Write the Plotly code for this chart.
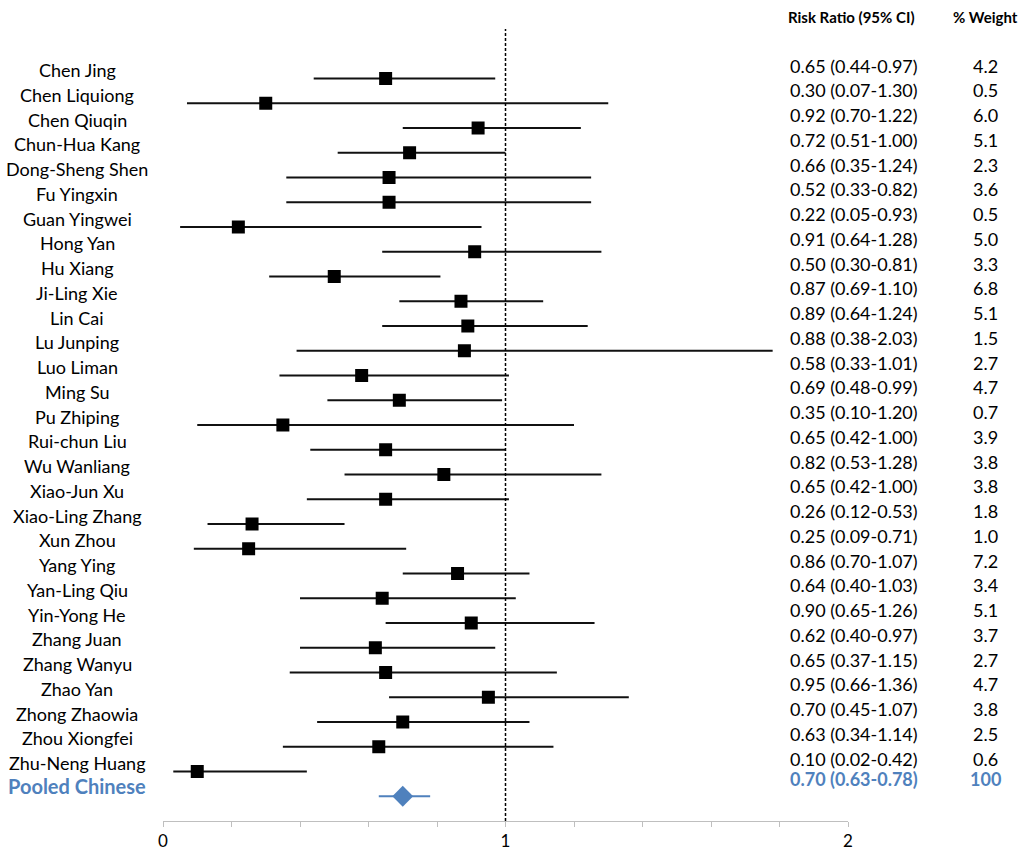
import plotly.graph_objects as go

# study data (points as drawn in the picture, labels as printed)
studies = ["Chen Jing", "Chen Liquiong", "Chen Qiuqin", "Chun-Hua Kang", "Dong-Sheng Shen",
           "Fu Yingxin", "Guan Yingwei", "Hong Yan", "Hu Xiang", "Ji-Ling Xie", "Lin Cai",
           "Lu Junping", "Luo Liman", "Ming Su", "Pu Zhiping", "Rui-chun Liu", "Wu Wanliang",
           "Xiao-Jun Xu", "Xiao-Ling Zhang", "Xun Zhou", "Yang Ying", "Yan-Ling Qiu",
           "Yin-Yong He", "Zhang Juan", "Zhang Wanyu", "Zhao Yan", "Zhong Zhaowia",
           "Zhou Xiongfei", "Zhu-Neng Huang"]
rr = [0.65, 0.30, 0.92, 0.72, 0.66, 0.66, 0.22, 0.91, 0.50, 0.87, 0.89, 0.88, 0.58, 0.69,
      0.35, 0.65, 0.82, 0.65, 0.26, 0.25, 0.86, 0.64, 0.90, 0.62, 0.65, 0.95, 0.70, 0.63, 0.10]
lo = [0.44, 0.07, 0.70, 0.51, 0.36, 0.36, 0.05, 0.64, 0.31, 0.69, 0.64, 0.39, 0.34, 0.48,
      0.10, 0.43, 0.53, 0.42, 0.13, 0.09, 0.70, 0.40, 0.65, 0.40, 0.37, 0.66, 0.45, 0.35, 0.03]
hi = [0.97, 1.30, 1.22, 1.00, 1.25, 1.25, 0.93, 1.28, 0.81, 1.11, 1.24, 1.78, 1.01, 0.99,
      1.20, 1.00, 1.28, 1.01, 0.53, 0.71, 1.07, 1.03, 1.26, 0.97, 1.15, 1.36, 1.07, 1.14, 0.42]
rr_labels = ["0.65 (0.44-0.97)", "0.30 (0.07-1.30)", "0.92 (0.70-1.22)", "0.72 (0.51-1.00)",
             "0.66 (0.35-1.24)", "0.52 (0.33-0.82)", "0.22 (0.05-0.93)", "0.91 (0.64-1.28)",
             "0.50 (0.30-0.81)", "0.87 (0.69-1.10)", "0.89 (0.64-1.24)", "0.88 (0.38-2.03)",
             "0.58 (0.33-1.01)", "0.69 (0.48-0.99)", "0.35 (0.10-1.20)", "0.65 (0.42-1.00)",
             "0.82 (0.53-1.28)", "0.65 (0.42-1.00)", "0.26 (0.12-0.53)", "0.25 (0.09-0.71)",
             "0.86 (0.70-1.07)", "0.64 (0.40-1.03)", "0.90 (0.65-1.26)", "0.62 (0.40-0.97)",
             "0.65 (0.37-1.15)", "0.95 (0.66-1.36)", "0.70 (0.45-1.07)", "0.63 (0.34-1.14)",
             "0.10 (0.02-0.42)"]
weights = ["4.2", "0.5", "6.0", "5.1", "2.3", "3.6", "0.5", "5.0", "3.3", "6.8", "5.1", "1.5",
           "2.7", "4.7", "0.7", "3.9", "3.8", "3.8", "1.8", "1.0", "7.2", "3.4", "5.1", "3.7",
           "2.7", "4.7", "3.8", "2.5", "0.6"]

pooled_name = "Pooled Chinese"
pooled_rr, pooled_lo, pooled_hi = 0.70, 0.63, 0.78
pooled_label = "0.70 (0.63-0.78)"
pooled_weight = "100"

xticks = [0, 0.2, 0.4, 0.6, 0.8, 1.0, 1.2, 1.4, 1.6, 1.8, 2.0]
xticklabels = ["0", "", "", "", "", "1", "", "", "", "", "2"]

BLUE = "#4F81BD"
FONT = "Lato"

rows = list(range(len(studies)))
pooled_row = len(studies)

fig = go.Figure()

fig.add_trace(go.Scatter(
    x=rr, y=rows, mode="markers",
    marker=dict(symbol="square", size=13, color="black"),
    error_x=dict(type="data", symmetric=False,
                 array=[h - r for h, r in zip(hi, rr)],
                 arrayminus=[r - l for r, l in zip(rr, lo)],
                 width=0, thickness=2, color="#111111"),
    showlegend=False, hoverinfo="skip"
))

fig.add_trace(go.Scatter(
    x=[pooled_rr], y=[pooled_row], mode="markers",
    marker=dict(symbol="diamond", size=16, color=BLUE),
    error_x=dict(type="data", symmetric=False,
                 array=[pooled_hi - pooled_rr], arrayminus=[pooled_rr - pooled_lo],
                 width=0, thickness=2, color=BLUE),
    showlegend=False, hoverinfo="skip"
))

# reference line at RR = 1
fig.add_shape(type="line", x0=1, x1=1, y0=0, y1=1, xref="x", yref="paper",
              line=dict(color="black", width=1.5, dash="3px,2px"))

# left column: study names
for i, name in enumerate(studies):
    fig.add_annotation(text=name, x=-0.1255, xref="paper", y=i, yref="y", yshift=8.5,
                       xanchor="center", yanchor="middle", showarrow=False,
                       font=dict(family=FONT, size=18, color="black"))
fig.add_annotation(text="<b>" + pooled_name + "</b>", x=-0.1255, xref="paper",
                   y=pooled_row, yref="y", yshift=10, xanchor="center", yanchor="middle",
                   showarrow=False, font=dict(family=FONT, size=20, color=BLUE))

# right columns: risk ratios and weights
for i, (lab, w) in enumerate(zip(rr_labels, weights)):
    fig.add_annotation(text=lab, x=0.9124, xref="paper", y=i, yref="y", yshift=13,
                       xanchor="left", yanchor="middle", showarrow=False,
                       font=dict(family=FONT, size=18, color="black"))
    fig.add_annotation(text=w, x=1.2, xref="paper", y=i, yref="y", yshift=13,
                       xanchor="center", yanchor="middle", showarrow=False,
                       font=dict(family=FONT, size=18, color="black"))
fig.add_annotation(text="<b>" + pooled_label + "</b>", x=0.9124, xref="paper", y=pooled_row,
                   yref="y", yshift=17, xanchor="left", yanchor="middle", showarrow=False,
                   font=dict(family=FONT, size=18, color=BLUE))
fig.add_annotation(text="<b>" + pooled_weight + "</b>", x=1.2, xref="paper", y=pooled_row,
                   yref="y", yshift=17, xanchor="center", yanchor="middle", showarrow=False,
                   font=dict(family=FONT, size=18, color=BLUE))

# column headers
fig.add_annotation(text="<b>Risk Ratio (95% CI)</b>", x=1.0058, xref="paper", y=1.015,
                   yref="paper", xanchor="center", yanchor="middle", showarrow=False,
                   font=dict(family=FONT, size=15, color="black"))
fig.add_annotation(text="<b>% Weight</b>", x=1.2, xref="paper", y=1.015, yref="paper",
                   xanchor="center", yanchor="middle", showarrow=False,
                   font=dict(family=FONT, size=15, color="black"))

fig.update_layout(
    width=1024, height=859,
    margin=dict(l=163, r=176, t=29, b=38),
    plot_bgcolor="white", paper_bgcolor="white",
    font=dict(family=FONT, size=16, color="black"),
)
fig.update_xaxes(range=[0, 2], tickvals=xticks, ticktext=xticklabels, automargin=False,
                 showgrid=False, zeroline=False, showline=True, linecolor="#bfbfbf",
                 linewidth=1, ticks="outside", ticklen=5, tickcolor="#bfbfbf",
                 tickfont=dict(family=FONT, size=17, color="black"))
fig.update_yaxes(range=[30, -2], showgrid=False, zeroline=False, showline=False,
                 showticklabels=False, ticks="", automargin=False)

# drop the default page margin so the figure sits at the window corner
fig.write_html("out.html", config={"displayModeBar": False},
               post_script="document.body.style.margin='0px';")
